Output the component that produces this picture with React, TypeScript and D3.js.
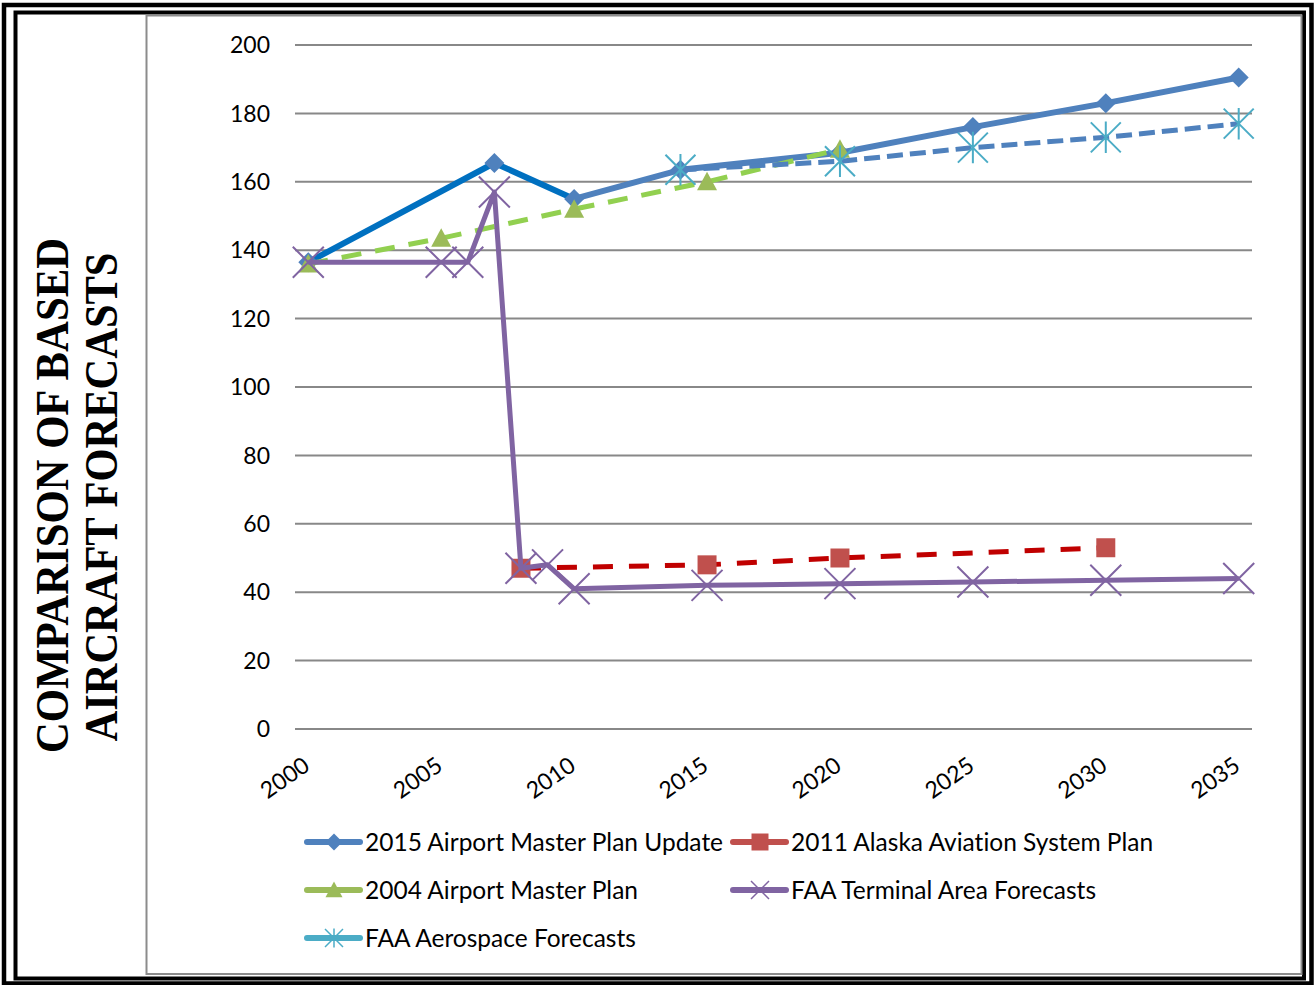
import React from "react";
import * as d3 from "d3";

const xTickYears = [2000, 2005, 2010, 2015, 2020, 2025, 2030, 2035];
const yTickValues = [0, 20, 40, 60, 80, 100, 120, 140, 160, 180, 200];

const yearsAMP2015 = [2000, 2007, 2010, 2014, 2020, 2025, 2030, 2035];
const valuesAMP2015 = [136.5, 165.5, 155, 163.5, 168.5, 176, 183, 190.5];

const yearsAASP = [2008, 2015, 2020, 2030];
const valuesAASP = [47, 48, 50, 53];

const yearsAMP2004 = [2000, 2005, 2010, 2015, 2020];
const valuesAMP2004 = [136, 143.5, 152, 160, 169.5];

const yearsTAF = [2000, 2005, 2006, 2007, 2008, 2009, 2010, 2015, 2020, 2025, 2030, 2035];
const valuesTAF = [136.5, 136.5, 136.5, 157, 47, 48, 41, 42, 42.5, 43, 43.5, 44];

const yearsAero = [2014, 2020, 2025, 2030, 2035];
const valuesAero = [163.5, 166, 170, 173, 177];

const legendNames = [
  "2015 Airport Master Plan Update",
  "2011 Alaska Aviation System Plan",
  "2004 Airport Master Plan",
  "FAA Terminal Area Forecasts",
  "FAA Aerospace Forecasts",
];

const titleLines = ["COMPARISON OF BASED", "AIRCRAFT FORECASTS"];

type Pt = { x: number; y: number };

function markerPath(kind: string, cx: number, cy: number, r: number): string {
  switch (kind) {
    case "diamond":
      return `M${cx},${cy - r}L${cx + r},${cy}L${cx},${cy + r}L${cx - r},${cy}Z`;
    case "square":
      return `M${cx - r},${cy - r}h${2 * r}v${2 * r}h${-2 * r}Z`;
    case "triangle":
      return `M${cx},${cy - r}L${cx + r},${cy + r * 0.85}L${cx - r},${cy + r * 0.85}Z`;
    case "x":
      return `M${cx - r},${cy - r}L${cx + r},${cy + r}M${cx - r},${cy + r}L${cx + r},${cy - r}`;
    case "star":
      return `M${cx - r},${cy - r}L${cx + r},${cy + r}M${cx - r},${cy + r}L${cx + r},${cy - r}M${cx},${cy - r * 1.05}L${cx},${cy + r * 1.05}`;
  }
  return "";
}

export default function App() {
  const W = 1315;
  const H = 985;
  const x = d3.scaleLinear().domain([1999.5, 2035.5]).range([295, 1252]);
  const y = d3.scaleLinear().domain([0, 200]).range([729, 45]);
  const line = d3
    .line<Pt>()
    .x((d) => d.x)
    .y((d) => d.y);

  const pts = (ys: number[], vs: number[]): Pt[] => ys.map((yr, i) => ({ x: x(yr), y: y(vs[i]) }));

  const amp2015 = pts(yearsAMP2015, valuesAMP2015);
  const aasp = pts(yearsAASP, valuesAASP);
  const amp2004 = pts(yearsAMP2004, valuesAMP2004);
  const taf = pts(yearsTAF, valuesTAF);
  const aero = pts(yearsAero, valuesAero);

  const splitIdx = yearsAMP2015.indexOf(2010);

  const legendItems = [
    { name: legendNames[0], col: 0, row: 0, color: "#4F81BD", marker: "diamond", mcolor: "#4F81BD" },
    { name: legendNames[1], col: 1, row: 0, color: "#C0504D", marker: "square", mcolor: "#C0504D" },
    { name: legendNames[2], col: 0, row: 1, color: "#9BBB59", marker: "triangle", mcolor: "#9BBB59" },
    { name: legendNames[3], col: 1, row: 1, color: "#8064A2", marker: "x", mcolor: "#8064A2" },
    { name: legendNames[4], col: 0, row: 2, color: "#4BACC6", marker: "star", mcolor: "#4BACC6" },
  ];
  const legendColX = [307, 733];
  const legendRowY = [842, 890, 938];

  const font = "Lato, 'Open Sans', sans-serif";

  return (
    <div style={{ position: "absolute", left: 0, top: 0 }}>
      <svg width={W} height={H} viewBox={`0 0 ${W} ${H}`} style={{ display: "block", background: "#fff" }}>
        <rect x={0} y={0} width={W} height={H} fill="#fff" />
        {/* double frame */}
        <rect x={4} y={5} width={1307.5} height={978.5} fill="none" stroke="#000" strokeWidth={4.5} />
        <rect x={15.5} y={12.5} width={1288.5} height={966} fill="none" stroke="#000" strokeWidth={4} />
        {/* chart area */}
        <rect x={146.5} y={15.5} width={1155} height={958.5} fill="#fff" stroke="#8c8c8c" strokeWidth={2} />

        {/* title */}
        {titleLines.map((t, i) => (
          <text
            key={t}
            transform={`translate(${i === 0 ? 68 : 117},${i === 0 ? 495.5 : 497}) rotate(-90)`}
            textAnchor="middle"
            fontFamily="'Liberation Serif', 'Times New Roman', serif"
            fontWeight="bold"
            fontSize={46}
            textLength={i === 0 ? 515 : 489}
            lengthAdjust="spacingAndGlyphs"
            fill="#000"
          >
            {t}
          </text>
        ))}

        {/* gridlines */}
        {yTickValues.map((v) => (
          <line key={v} x1={295} x2={1252} y1={y(v)} y2={y(v)} stroke="#888" strokeWidth={2} />
        ))}
        {yTickValues.map((v) => (
          <text key={"yl" + v} x={270} y={y(v)} dy="0.36em" textAnchor="end" fontFamily={font} fontSize={23} fill="#000">
            {v}
          </text>
        ))}
        {xTickYears.map((yr) => (
          <text
            key={"xl" + yr}
            transform={`translate(${x(yr) + 3},769) rotate(-35)`}
            textAnchor="end"
            fontFamily={font}
            fontSize={23}
            fill="#000"
          >
            {yr}
          </text>
        ))}

        {/* 2015 Airport Master Plan Update */}
        <path d={line(amp2015.slice(0, splitIdx + 1)) || ""} fill="none" stroke="#0070C0" strokeWidth={6} strokeLinejoin="round" />
        <path d={line(amp2015.slice(splitIdx)) || ""} fill="none" stroke="#4F81BD" strokeWidth={6} strokeLinejoin="round" />
        {amp2015.map((p, i) => (
          <path key={"d" + i} d={markerPath("diamond", p.x, p.y, 10)} fill="#4F81BD" />
        ))}

        {/* 2011 Alaska Aviation System Plan */}
        <path d={line(aasp) || ""} fill="none" stroke="#C00000" strokeWidth={5} strokeDasharray="20 16" />
        {aasp.map((p, i) => (
          <path key={"s" + i} d={markerPath("square", p.x, p.y, 9.5)} fill="#C0504D" />
        ))}

        {/* 2004 Airport Master Plan */}
        <path d={line(amp2004) || ""} fill="none" stroke="#92D050" strokeWidth={5} strokeDasharray="20 14" />
        {amp2004.map((p, i) => (
          <path key={"t" + i} d={markerPath("triangle", p.x, p.y, 10)} fill="#9BBB59" />
        ))}

        {/* FAA Terminal Area Forecasts */}
        <path d={line(taf) || ""} fill="none" stroke="#8064A2" strokeWidth={5} strokeLinejoin="round" />
        {taf.map((p, i) => (
          <path key={"x" + i} d={markerPath("x", p.x, p.y, 15.5)} fill="none" stroke="#8064A2" strokeWidth={2} />
        ))}

        {/* FAA Aerospace Forecasts */}
        <path d={line(aero) || ""} fill="none" stroke="#4F81BD" strokeWidth={5} strokeDasharray="16 7" />
        {aero.map((p, i) => (
          <path key={"a" + i} d={markerPath("star", p.x, p.y, 15)} fill="none" stroke="#4BACC6" strokeWidth={2} />
        ))}

        {/* legend */}
        {legendItems.map((it) => {
          const lx = legendColX[it.col];
          const ly = legendRowY[it.row];
          const cx = lx + 27;
          const isStroke = it.marker === "x" || it.marker === "star";
          return (
            <g key={it.name}>
              <line x1={lx} x2={lx + 53} y1={ly} y2={ly} stroke={it.color} strokeWidth={6} strokeLinecap="round" />
              <path
                d={markerPath(it.marker, cx, ly, isStroke ? 9 : 8.5)}
                fill={isStroke ? "none" : it.mcolor}
                stroke={isStroke ? it.mcolor : "none"}
                strokeWidth={isStroke ? 1.5 : 0}
              />
              <text
                x={lx + 58}
                y={ly}
                dy="0.36em"
                fontFamily={font}
                fontSize={24.5}
                fill="#000"
                style={{ fontVariantLigatures: "none" }}
              >
                {it.name}
              </text>
            </g>
          );
        })}
      </svg>
    </div>
  );
}
